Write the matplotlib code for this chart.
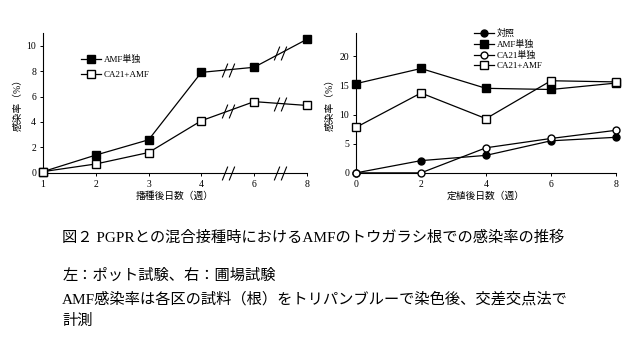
import numpy as np
import matplotlib
matplotlib.use("Agg")
import matplotlib.pyplot as plt
from matplotlib.path import Path

plt.rcParams['font.family'] = ['Liberation Serif', 'Noto Sans CJK JP']

# 左：ポット試験
pot_weeks = ['1', '2', '3', '4', '6', '8']
pot_amf = [0.1, 1.4, 2.6, 7.9, 8.3, 10.5]
pot_ca21_amf = [0.1, 0.7, 1.6, 4.1, 5.6, 5.3]

# 右：圃場試験
field_weeks = [0, 2, 4, 6, 8]
field_ctrl = [0.0, 2.1, 3.0, 5.5, 6.1]
field_amf = [15.3, 17.9, 14.5, 14.3, 15.4]
field_ca21 = [0.0, 0.0, 4.3, 5.9, 7.3]
field_ca21_amf = [7.8, 13.7, 9.3, 15.8, 15.6]

# 波線（//）マーカー
brk = Path([(-0.9, -1.0), (-0.1, 1.0), (0.1, -1.0), (0.9, 1.0)],
           [Path.MOVETO, Path.LINETO, Path.MOVETO, Path.LINETO])

fig = plt.figure(figsize=(6.34, 3.43), dpi=100)
ax1 = fig.add_axes([0.068, 0.496, 0.416, 0.408])
ax2 = fig.add_axes([0.5615, 0.496, 0.41, 0.408])

lw = 0.9
for ax in (ax1, ax2):
    for s in ('top', 'right'):
        ax.spines[s].set_visible(False)
    ax.spines['left'].set_linewidth(0.8)
    ax.spines['bottom'].set_linewidth(0.8)
    ax.tick_params(direction='out', length=2.5, width=0.7, labelsize=7, pad=2.5)

# 左グラフ
xp = np.arange(len(pot_weeks))
ax1.plot(xp, pot_amf, '-s', color='black', lw=lw, ms=5.5, mfc='black', mec='black',
         label='AMF単独', clip_on=False, zorder=3)
ax1.plot(xp, pot_ca21_amf, '-s', color='black', lw=lw, ms=5.5, mfc='white', mec='black',
         label='CA21+AMF', clip_on=False, zorder=3)
# 省略記号
for i in (3, 4):
    xm = (xp[i] + xp[i + 1]) / 2
    for ser in (pot_amf, pot_ca21_amf, [0] * len(xp)):
        ym = (ser[i] + ser[i + 1]) / 2
        ax1.plot([xm], [ym], marker=brk, ms=10, mew=0.8, color='black',
                 clip_on=False, zorder=4)
ax1.set_xlim(0, 5)
ax1.set_ylim(0, 11)
ax1.set_xticks(xp)
ax1.set_xticklabels(pot_weeks)
ax1.set_yticks([0, 2, 4, 6, 8, 10])
ax1.set_xlabel('播種後日数（週）', fontsize=7, labelpad=2)
ax1.set_ylabel('感染率（%）', fontsize=7, labelpad=3)
ax1.legend(loc='upper left', bbox_to_anchor=(0.125, 0.875), frameon=False, fontsize=6.5,
           handlelength=2.3, handletextpad=0.3, labelspacing=0.75, borderpad=0)

# 右グラフ
ax2.plot(field_weeks, field_ctrl, '-o', color='black', lw=lw, ms=5, mfc='black',
         label='対照', clip_on=False, zorder=3)
ax2.plot(field_weeks, field_amf, '-s', color='black', lw=lw, ms=5.5, mfc='black',
         label='AMF単独', clip_on=False, zorder=3)
ax2.plot(field_weeks, field_ca21, '-o', color='black', lw=lw, ms=5, mfc='white',
         label='CA21単独', clip_on=False, zorder=3)
ax2.plot(field_weeks, field_ca21_amf, '-s', color='black', lw=lw, ms=5.5, mfc='white',
         label='CA21+AMF', clip_on=False, zorder=3)
ax2.set_xlim(0, 8)
ax2.set_ylim(0, 24)
ax2.set_xticks(field_weeks)
ax2.set_yticks([0, 5, 10, 15, 20])
ax2.set_xlabel('定植後日数（週）', fontsize=7, labelpad=2)
ax2.set_ylabel('感染率（%）', fontsize=7, labelpad=3)
ax2.legend(loc='upper left', bbox_to_anchor=(0.435, 1.06), frameon=False, fontsize=6.5,
           handlelength=2.3, handletextpad=0.3, labelspacing=0.2, borderpad=0)

# キャプション
fig.text(0.098, 0.306, '図２ PGPRとの混合接種時におけるAMFのトウガラシ根での感染率の推移',
         fontsize=11, va='center', ha='left')
fig.text(0.098, 0.195, '左：ポット試験、右：圃場試験', fontsize=11, va='center', ha='left')
fig.text(0.098, 0.128, 'AMF感染率は各区の試料（根）をトリパンブルーで染色後、交差交点法で',
         fontsize=11, va='center', ha='left')
fig.text(0.098, 0.064, '計測', fontsize=11, va='center', ha='left')

fig.savefig('out.png', dpi=100)
